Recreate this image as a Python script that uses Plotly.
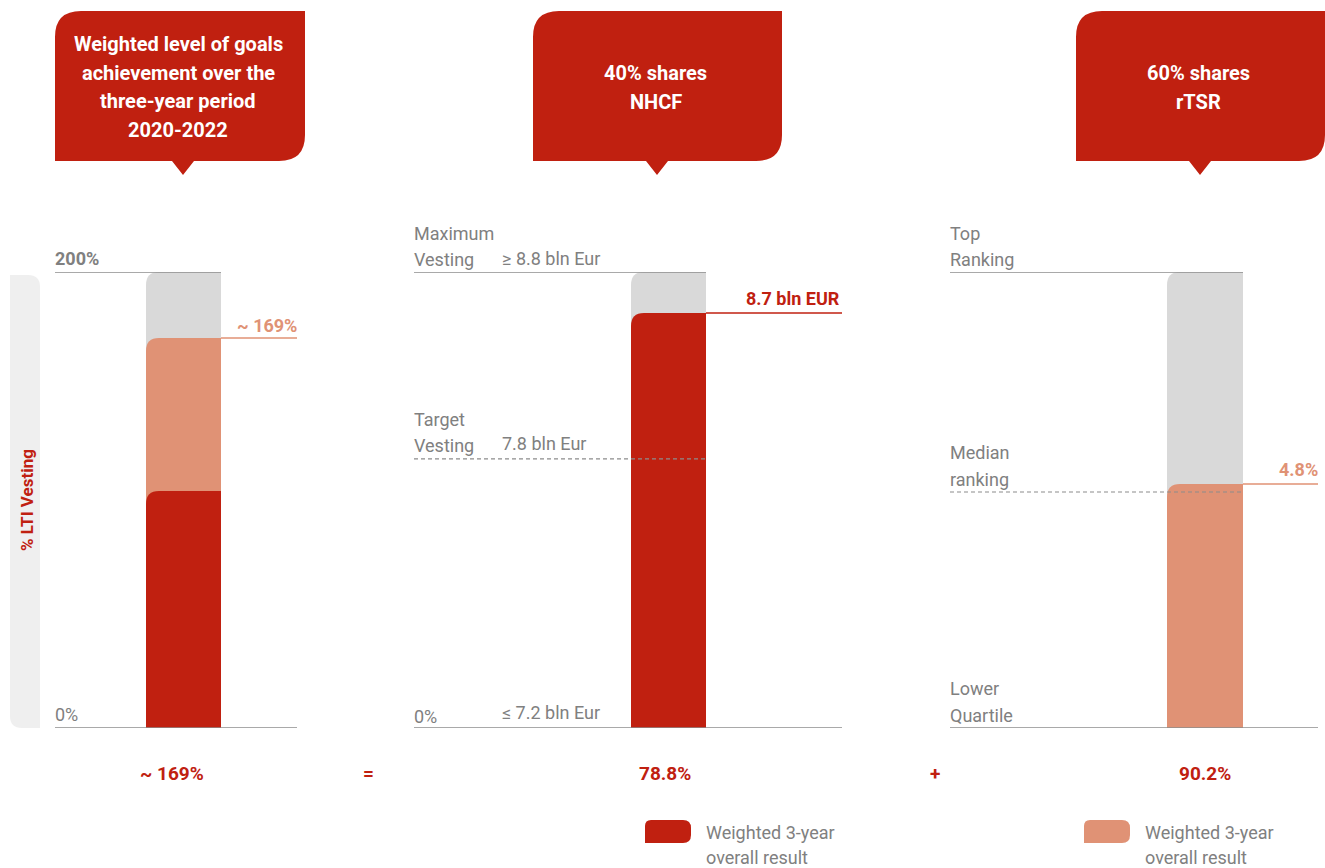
import plotly.graph_objects as go

W, H = 1325, 868
RED = "#C02010"
ORANGE = "#E09275"
GRAY_BAR = "#D9D9D9"
LINE = "#8C8C8C"
TXT = "#808080"
FONT = "Liberation Sans Narrow, Roboto, Arial, sans-serif"

# values on a common 0-200 "% LTI vesting" visual scale
scale_max = 200
goals_levels = [104, 171]          # red part, total (~169%)
nhcf_target = 118
nhcf_result = 182
tsr_median = 103.5
tsr_result = 107

box_titles = [
    ["Weighted level of goals", "achievement over the", "three-year period", "2020-2022"],
    ["40% shares", "NHCF"],
    ["60% shares", "rTSR"],
]
bottom_values = ["~ 169%", "78.8%", "90.2%"]
operators = ["=", "+"]

fig = go.Figure()
# invisible helpers so both axes exist
fig.add_trace(go.Scatter(x=[0], y=[0], mode="markers", marker=dict(opacity=0),
                         hoverinfo="skip", showlegend=False))
fig.add_trace(go.Scatter(x=[0], y=[0], yaxis="y2", mode="markers", marker=dict(opacity=0),
                         hoverinfo="skip", showlegend=False))

PX_PER_UNIT = 456 / scale_max


def bar(x0, x1, top, color, r=13):
    ry = r / PX_PER_UNIT
    path = (f"M {x0},0 L {x0},{top - ry} Q {x0},{top} {x0 + r},{top} "
            f"L {x1},{top} L {x1},0 Z")
    fig.add_shape(type="path", path=path, xref="x", yref="y",
                  fillcolor=color, line=dict(width=0), layer="above")


def hline(x0, x1, y, color=LINE, dash="solid", width=1.5):
    fig.add_shape(type="line", x0=x0, x1=x1, y0=y, y1=y, xref="x", yref="y",
                  line=dict(color=color, width=width, dash=dash), layer="above")


def text(x, y, s, color=TXT, size=18, bold=False, xanchor="left", yref="y2", angle=0):
    # compensate the annotation's own padding
    dx = {"left": -2, "right": 2}.get(xanchor, 0)
    fig.add_annotation(x=x + dx, y=y, xref="x", yref=yref, text=f"<b>{s}</b>" if bold else s,
                       showarrow=False, xanchor=xanchor, yanchor="middle", textangle=angle,
                       font=dict(family=FONT, size=size, color=color))


# callout boxes (pixel coordinates on y2)
boxes = [(55, 305, 183), (533, 782, 657), (1076, 1325, 1200)]
for (x0, x1, cx), lines in zip(boxes, box_titles):
    r = 26
    path = (f"M {x0},161 L {x0},{11 + r} Q {x0},11 {x0 + r},11 L {x1},11 "
            f"L {x1},{161 - r} Q {x1},161 {x1 - r},161 L {cx + 11},161 L {cx},175 "
            f"L {cx - 11},161 Z")
    fig.add_shape(type="path", path=path, xref="x", yref="y2",
                  fillcolor=RED, line=dict(width=0))
    n = len(lines)
    y_start = 44 if n == 4 else 73
    for i, ln in enumerate(lines):
        text((x0 + x1) / 2 - 2, y_start + i * 28.7, ln, color="white", size=20,
             bold=True, xanchor="center")

# left pill
fig.add_shape(type="path", xref="x", yref="y2", fillcolor="#EFEFEF", line=dict(width=0),
              layer="below",
              path="M 10,275 L 28,275 Q 40,275 40,287 L 40,728 L 22,728 Q 10,728 10,716 Z")
text(27, 500, "% LTI Vesting", color=RED, size=17, bold=True, xanchor="center", angle=-90)

# panel 1
bar(146, 221, scale_max, GRAY_BAR)
bar(146, 221, goals_levels[1], ORANGE)
bar(146, 221, goals_levels[0], RED)
hline(55, 221, scale_max)
hline(221, 297, goals_levels[1], color=ORANGE)
hline(55, 297, 0)
text(55, 258, "200%", size=18, bold=True)
text(297, 325, "~ 169%", color=ORANGE, size=18, bold=True, xanchor="right")
text(55, 714, "0%", size=18)

# panel 2
bar(631, 706, scale_max, GRAY_BAR)
bar(631, 706, nhcf_result, RED)
hline(414, 706, scale_max)
hline(414, 706, nhcf_target, dash="4px,3px", width=1.2)
hline(706, 842, nhcf_result, color=RED)
hline(414, 842, 0)
text(414, 233, "Maximum")
text(414, 259, "Vesting")
text(502, 258, "≥ 8.8 bln Eur")
text(414, 419, "Target")
text(414, 445, "Vesting")
text(502, 443, "7.8 bln Eur")
text(414, 716, "0%")
text(502, 712, "≤ 7.2 bln Eur")
text(840, 298, "8.7 bln EUR", color=RED, size=18, bold=True, xanchor="right")

# panel 3
bar(1167, 1243, scale_max, GRAY_BAR)
bar(1167, 1243, tsr_result, ORANGE)
hline(950, 1243, scale_max)
hline(950, 1243, tsr_median, dash="4px,3px", width=1.2)
hline(1243, 1318, tsr_result, color=ORANGE)
hline(950, 1318, 0)
text(950, 233, "Top")
text(950, 259, "Ranking")
text(950, 452, "Median")
text(950, 479, "ranking")
text(950, 688, "Lower")
text(950, 715, "Quartile")
text(1318, 469, "4.8%", color=ORANGE, size=18, bold=True, xanchor="right")

# bottom values
for x, s in zip([172, 665, 1205], bottom_values):
    text(x, 773, s, color=RED, size=19, bold=True, xanchor="center")
for x, s in zip([368, 935], operators):
    text(x, 773, s, color=RED, size=19, bold=True, xanchor="center")

# legend swatches
for x0, color in [(645, RED), (1084, ORANGE)]:
    x1 = x0 + 46
    path = (f"M {x0},843 L {x0},826 Q {x0},820 {x0 + 6},820 L {x1 - 8},820 "
            f"Q {x1},820 {x1},828 L {x1},835 Q {x1},843 {x1 - 8},843 Z")
    fig.add_shape(type="path", path=path, xref="x", yref="y2",
                  fillcolor=color, line=dict(width=0))
    text(x0 + 61, 832, "Weighted 3-year")
    text(x0 + 61, 857, "overall result")

fig.update_layout(
    width=W, height=H,
    margin=dict(l=0, r=0, t=0, b=0),
    paper_bgcolor="white", plot_bgcolor="rgba(0,0,0,0)",
    showlegend=False,
    xaxis=dict(range=[0, W], visible=False, fixedrange=True),
    yaxis=dict(range=[0, scale_max], domain=[1 - 728 / H, 1 - 272 / H],
               visible=False, fixedrange=True),
    yaxis2=dict(range=[H, 0], domain=[0, 1], anchor="x", visible=False,
                fixedrange=True),
)

fig.write_html("out.html", config={"displayModeBar": False},
               post_script="document.body.style.margin='0';")
